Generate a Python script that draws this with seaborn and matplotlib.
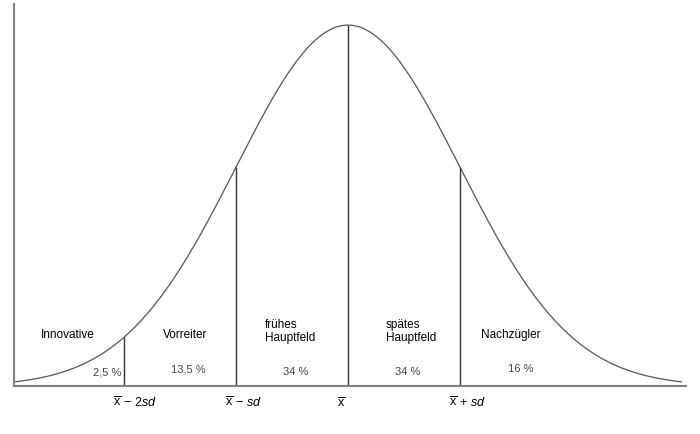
import numpy as np
import matplotlib
matplotlib.use("Agg")
import matplotlib.pyplot as plt
import seaborn as sns
import pandas as pd

# Abschnittsgrenzen in Standardabweichungen
sd_grenzen = [-2, -1, 0, 1]
tick_labels = [r"$\overline{\mathrm{x}}\,-\,2\mathit{sd}$", r"$\overline{\mathrm{x}}\,-\,\mathit{sd}$",
               r"$\overline{\mathrm{x}}$", r"$\overline{\mathrm{x}}\,+\,\mathit{sd}$"]

# Gruppen und Anteile
gruppen = ["Innovative", "Vorreiter", "frühes\nHauptfeld", "spätes\nHauptfeld", "Nachzügler"]
gruppen_x = [-2.5, -1.45, -0.74, 0.34, 1.45]
gruppen_ha = ["center", "center", "left", "left", "center"]
anteile = ["2,5 %", "13,5 %", "34 %", "34 %", "16 %"]
anteile_x = [-2.15, -1.43, -0.47, 0.53, 1.54]
anteile_y = [0.0165, 0.0198, 0.0165, 0.0165, 0.0198]


def normal_pdf(z):
    return np.exp(-0.5 * z ** 2) / np.sqrt(2 * np.pi)


sns.set_style("white")
plt.rcParams["font.family"] = ["Liberation Sans", "DejaVu Sans"]
plt.rcParams["mathtext.fontset"] = "custom"
plt.rcParams["mathtext.rm"] = "Liberation Sans"
plt.rcParams["mathtext.it"] = "Liberation Sans:italic"

fig = plt.figure(figsize=(7, 4.35), dpi=100)
ax = fig.add_axes([0.02, 0.11, 0.96, 0.878])

z = np.linspace(-2.97, 2.98, 400)
df = pd.DataFrame({"z": z, "dichte": normal_pdf(z)})
sns.lineplot(data=df, x="z", y="dichte", ax=ax, color="#555555", linewidth=0.9)

grenzen = np.array(sd_grenzen, dtype=float)
ax.vlines(grenzen, 0, normal_pdf(grenzen), color="#333333", linewidth=1.0)

for name, x, ha in zip(gruppen, gruppen_x, gruppen_ha):
    ax.text(x, 0.0615 if "\n" in name else 0.0571, name, ha=ha, va="center",
            fontsize=8.5, color="black", linespacing=1.1)

for txt, x, y in zip(anteile, anteile_x, anteile_y):
    ax.text(x, y, txt, ha="center", va="center", fontsize=8, color="#444444")

for pos, lab in zip(sd_grenzen, tick_labels):
    ax.text(pos - 0.1, -0.0176, lab, ha="left", va="center", fontsize=9,
            color="black", clip_on=False)

ax.set_xlim(-2.982, 3.018)
ax.set_ylim(0, 0.422)
ax.set_xticks([])
ax.set_yticks([])
ax.set_xlabel("")
ax.set_ylabel("")
sns.despine(ax=ax)
for side in ["left", "bottom"]:
    ax.spines[side].set_color("#7f7f7f")
    ax.spines[side].set_linewidth(1.5)

fig.savefig("out.png", dpi=100)
